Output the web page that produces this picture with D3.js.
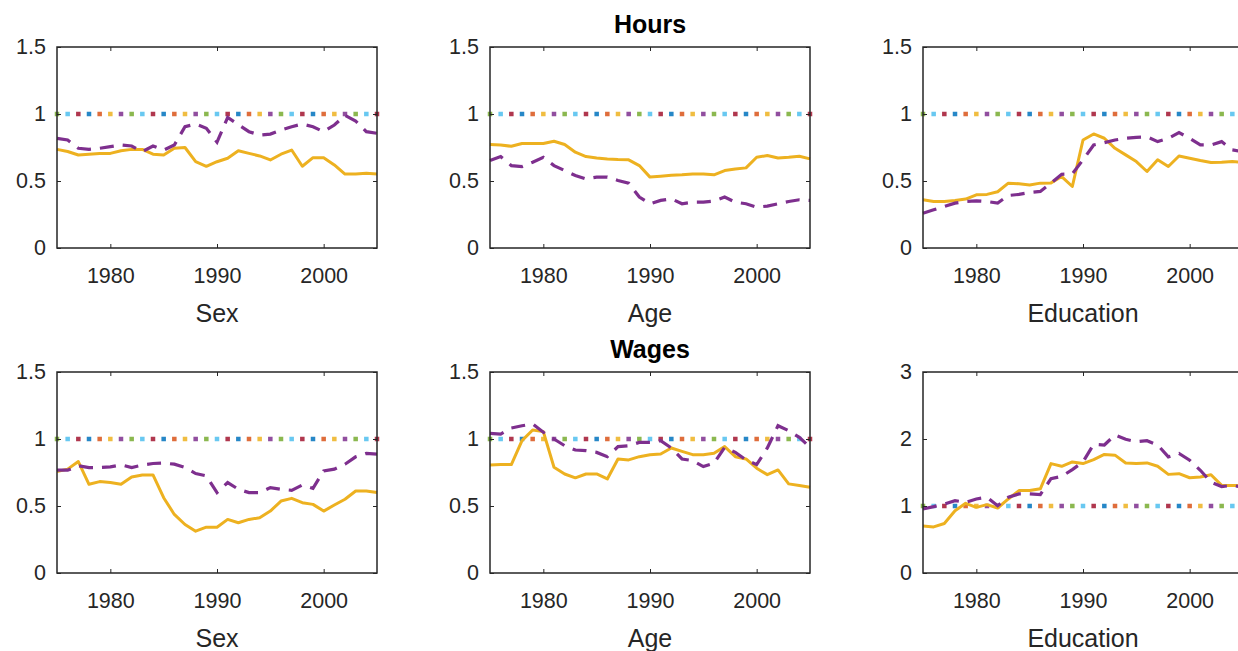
<!DOCTYPE html>
<html>
<head>
<meta charset="utf-8">
<script src="https://cdn.jsdelivr.net/npm/d3@7"></script>
<style>
  html, body { margin: 0; padding: 0; background: #fff; }
  svg { display: block; font-family: "Liberation Sans", Arial, Helvetica, sans-serif; }
  .tick line { stroke: #262626; }
</style>
</head>
<body>
<svg id="chart" width="1238" height="651"></svg>
<script>
// years on the x axis
var years = d3.range(1975, 2006);
var xTicks = [1980, 1990, 2000];

var rowTitles = ["Hours", "Wages"];
var colLabels = ["Sex", "Age", "Education"];

// Hours panels (solid = yellow, dashed = purple)
var hoursSexSolid = [0.736, 0.72, 0.694, 0.70, 0.706, 0.706, 0.726, 0.736, 0.736, 0.70, 0.694, 0.744, 0.75, 0.644, 0.61, 0.644, 0.67, 0.726, 0.706, 0.687, 0.657, 0.70, 0.731, 0.61, 0.674, 0.674, 0.62, 0.552, 0.552, 0.557, 0.552];
var hoursSexDashed = [0.818, 0.806, 0.744, 0.736, 0.744, 0.756, 0.769, 0.761, 0.719, 0.761, 0.731, 0.769, 0.905, 0.925, 0.893, 0.79, 0.975, 0.92, 0.868, 0.843, 0.85, 0.88, 0.905, 0.925, 0.905, 0.868, 0.918, 0.99, 0.948, 0.868, 0.856];
var hoursAgeSolid = [0.772, 0.769, 0.759, 0.78, 0.78, 0.78, 0.797, 0.772, 0.715, 0.682, 0.672, 0.665, 0.66, 0.658, 0.615, 0.529, 0.536, 0.543, 0.546, 0.553, 0.553, 0.546, 0.578, 0.59, 0.598, 0.677, 0.69, 0.672, 0.677, 0.685, 0.665];
var hoursAgeDashed = [0.653, 0.682, 0.615, 0.608, 0.64, 0.677, 0.615, 0.578, 0.541, 0.516, 0.529, 0.529, 0.504, 0.484, 0.38, 0.33, 0.355, 0.367, 0.33, 0.342, 0.342, 0.35, 0.38, 0.342, 0.33, 0.305, 0.313, 0.33, 0.347, 0.36, 0.355];
var hoursEduSolid = [0.36, 0.347, 0.347, 0.355, 0.365, 0.397, 0.40, 0.42, 0.484, 0.479, 0.47, 0.484, 0.486, 0.533, 0.459, 0.806, 0.851, 0.819, 0.744, 0.695, 0.645, 0.571, 0.658, 0.608, 0.687, 0.67, 0.653, 0.638, 0.64, 0.645, 0.638];
var hoursEduDashed = [0.26, 0.285, 0.31, 0.335, 0.347, 0.352, 0.347, 0.335, 0.392, 0.40, 0.414, 0.422, 0.484, 0.55, 0.553, 0.658, 0.769, 0.786, 0.806, 0.819, 0.826, 0.83, 0.794, 0.819, 0.861, 0.819, 0.769, 0.769, 0.794, 0.732, 0.72];

// Wages panels
var wagesSexSolid = [0.757, 0.775, 0.832, 0.662, 0.682, 0.675, 0.662, 0.717, 0.732, 0.732, 0.562, 0.437, 0.362, 0.312, 0.342, 0.342, 0.40, 0.375, 0.40, 0.412, 0.462, 0.537, 0.557, 0.525, 0.512, 0.462, 0.507, 0.55, 0.612, 0.612, 0.60];
var wagesSexDashed = [0.767, 0.767, 0.80, 0.787, 0.787, 0.792, 0.807, 0.787, 0.805, 0.817, 0.82, 0.812, 0.787, 0.742, 0.725, 0.60, 0.675, 0.625, 0.60, 0.60, 0.637, 0.625, 0.617, 0.657, 0.632, 0.762, 0.775, 0.812, 0.867, 0.892, 0.887];
var wagesAgeSolid = [0.806, 0.809, 0.809, 0.988, 1.067, 1.055, 0.789, 0.739, 0.71, 0.739, 0.739, 0.702, 0.851, 0.844, 0.868, 0.883, 0.888, 0.933, 0.908, 0.883, 0.883, 0.893, 0.943, 0.868, 0.851, 0.782, 0.734, 0.769, 0.665, 0.653, 0.64];
var wagesAgeDashed = [1.042, 1.037, 1.082, 1.099, 1.112, 1.05, 1.0, 0.95, 0.918, 0.913, 0.90, 0.868, 0.943, 0.95, 0.975, 0.975, 0.988, 0.933, 0.851, 0.839, 0.794, 0.819, 0.938, 0.90, 0.844, 0.809, 0.933, 1.099, 1.062, 1.012, 0.938];
var wagesEduSolid = [0.70, 0.688, 0.739, 0.93, 1.04, 0.98, 1.02, 0.97, 1.105, 1.23, 1.23, 1.256, 1.633, 1.593, 1.658, 1.633, 1.693, 1.769, 1.759, 1.643, 1.633, 1.643, 1.593, 1.472, 1.482, 1.422, 1.432, 1.467, 1.307, 1.307, 1.307];
var wagesEduDashed = [0.955, 0.99, 1.03, 1.08, 1.055, 1.105, 1.13, 1.005, 1.13, 1.18, 1.18, 1.17, 1.407, 1.442, 1.543, 1.658, 1.92, 1.91, 2.06, 1.995, 1.96, 1.975, 1.91, 1.734, 1.784, 1.683, 1.533, 1.357, 1.291, 1.307, 1.281];

// reference level (all ones)
var baseline = years.map(function () { return 1; });

var yMaxes = [[1.5, 1.5, 1.5], [1.5, 1.5, 3]];
var yTicks = [[[0, 0.5, 1, 1.5], [0, 0.5, 1, 1.5], [0, 0.5, 1, 1.5]],
              [[0, 0.5, 1, 1.5], [0, 0.5, 1, 1.5], [0, 1, 2, 3]]];
var solidSeries = [[hoursSexSolid, hoursAgeSolid, hoursEduSolid], [wagesSexSolid, wagesAgeSolid, wagesEduSolid]];
var dashedSeries = [[hoursSexDashed, hoursAgeDashed, hoursEduDashed], [wagesSexDashed, wagesAgeDashed, wagesEduDashed]];

// matlab default colour order, the dotted line cycles through it
var matlabColors = ["#0072BD", "#D95319", "#EDB120", "#7E2F8E", "#77AC30", "#4DBEEE", "#A2142F"];

var svg = d3.select("#chart");
svg.append("rect").attr("width", 1238).attr("height", 651).attr("fill", "#fff");

var colLeft = [57, 490, 923];
var rowTop = [47, 372];
var panelW = 320;
var panelH = 201;

for (var r = 0; r < 2; r++) {
  for (var c = 0; c < 3; c++) {
    drawPanel(r, c);
  }
  // row title over the middle column
  svg.append("text")
    .attr("x", colLeft[1] + panelW / 2)
    .attr("y", rowTop[r] - 14)
    .attr("text-anchor", "middle")
    .attr("font-size", "25px")
    .attr("font-weight", "bold")
    .attr("fill", "#000")
    .text(rowTitles[r]);
}

function drawPanel(r, c) {
  var g = svg.append("g").attr("transform", "translate(" + colLeft[c] + "," + rowTop[r] + ")");

  var x = d3.scaleLinear().domain([1975, 2005]).range([0, panelW]);
  var y = d3.scaleLinear().domain([0, yMaxes[r][c]]).range([panelH, 0]);

  var line = d3.line()
    .x(function (d, i) { return x(years[i]); })
    .y(function (d) { return y(d); });

  // dotted reference line at 1
  g.selectAll(".dot")
    .data(baseline)
    .enter()
    .append("rect")
    .attr("class", "dot")
    .attr("x", function (d, i) { return x(years[i]) - 2.25; })
    .attr("y", function (d) { return y(d) - 2.25; })
    .attr("width", 4.5)
    .attr("height", 4.5)
    .attr("fill", function (d, i) { return matlabColors[(i + 4) % 7]; })
    .attr("opacity", 0.85);

  g.append("path")
    .datum(solidSeries[r][c])
    .attr("d", line)
    .attr("fill", "none")
    .attr("stroke", "#EDB120")
    .attr("stroke-width", 3)
    .attr("stroke-linejoin", "round");

  g.append("path")
    .datum(dashedSeries[r][c])
    .attr("d", line)
    .attr("fill", "none")
    .attr("stroke", "#7E2F8E")
    .attr("stroke-width", 3.2)
    .attr("stroke-dasharray", "14,9");

  var axisStyle = function (sel) {
    sel.select(".domain").remove();
    sel.selectAll(".tick line").attr("stroke", "#262626").attr("stroke-width", 1);
    sel.selectAll(".tick text")
      .attr("fill", "#262626")
      .attr("font-size", "21.5px")
      .attr("font-family", "Liberation Sans, Arial, sans-serif");
  };

  g.append("g")
    .attr("transform", "translate(0," + panelH + ")")
    .call(d3.axisBottom(x).tickValues(xTicks).tickSize(-4).tickPadding(20).tickFormat(d3.format("d")))
    .call(axisStyle);
  g.append("g")
    .call(d3.axisTop(x).tickValues(xTicks).tickSize(-4).tickFormat(""))
    .call(axisStyle);
  g.append("g")
    .call(d3.axisLeft(y).tickValues(yTicks[r][c]).tickSize(-4).tickPadding(11).tickFormat(d3.format("")))
    .call(axisStyle);
  g.append("g")
    .attr("transform", "translate(" + panelW + ",0)")
    .call(d3.axisRight(y).tickValues(yTicks[r][c]).tickSize(-4).tickFormat(""))
    .call(axisStyle);

  g.append("rect")
    .attr("width", panelW)
    .attr("height", panelH)
    .attr("fill", "none")
    .attr("stroke", "#262626")
    .attr("stroke-width", 1.5);

  g.append("text")
    .attr("x", panelW / 2)
    .attr("y", panelH + 74)
    .attr("text-anchor", "middle")
    .attr("font-size", "25px")
    .attr("fill", "#262626")
    .text(colLabels[c]);
}
</script>
</body>
</html>
